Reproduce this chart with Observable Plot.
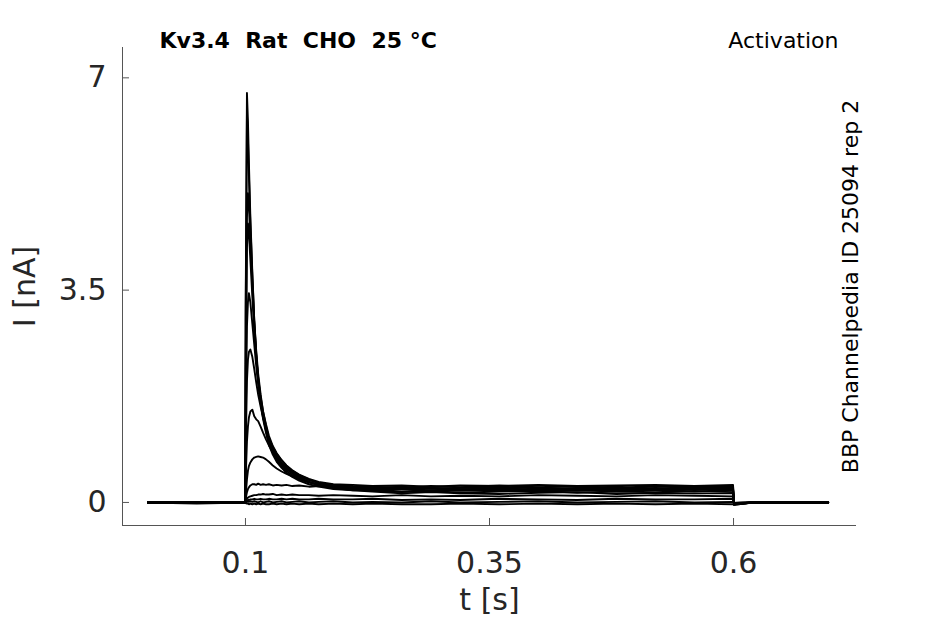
<!DOCTYPE html>
<html>
<head>
<meta charset="utf-8">
<script src="https://cdn.jsdelivr.net/npm/d3@7"></script>
<script src="https://cdn.jsdelivr.net/npm/@observablehq/plot@0.6"></script>
<style>
  body { margin: 0; background: #fff; }
  svg text { white-space: pre; }
</style>
</head>
<body>
<div id="chart"></div>
<script>
// time grid (s)
const time = [0, 0.05, 0.0998, 0.1002, 0.1015, 0.1025, 0.1035, 0.105, 0.107, 0.109,
  0.111, 0.113, 0.1155, 0.118, 0.121, 0.124, 0.128, 0.132, 0.137, 0.142,
  0.148, 0.155, 0.165, 0.175, 0.19, 0.21, 0.23, 0.26, 0.29, 0.32,
  0.36, 0.4, 0.44, 0.48, 0.52, 0.56, 0.5995, 0.6005, 0.62, 0.66, 0.697];

// current sweeps (nA)
const sweepA = [0, 0, 0, 3.2, 6.75, 6.3, 5.6, 4.7, 3.8, 3.0, 2.45, 2.05, 1.68, 1.42, 1.18, 0.98, 0.82, 0.7, 0.6, 0.52, 0.45, 0.39, 0.33, 0.29, 0.26, 0.24, 0.25, 0.22, 0.24, 0.21, 0.23, 0.25, 0.21, 0.23, 0.21, 0.24, 0.22, -0.03, 0.0, 0.01, 0.0];
const sweepB = [0, 0, 0, 3.0, 6.4, 6.0, 5.4, 4.6, 3.75, 3.0, 2.5, 2.12, 1.78, 1.5, 1.26, 1.06, 0.88, 0.76, 0.65, 0.57, 0.5, 0.43, 0.37, 0.32, 0.29, 0.27, 0.26, 0.24, 0.27, 0.25, 0.28, 0.25, 0.27, 0.24, 0.27, 0.26, 0.27, -0.04, 0.0, 0.0, 0.01];
const sweepC = [0, 0, 0, 2.2, 4.7, 5.1, 4.9, 4.3, 3.6, 2.95, 2.42, 2.0, 1.64, 1.38, 1.15, 0.95, 0.79, 0.67, 0.57, 0.49, 0.42, 0.36, 0.3, 0.26, 0.22, 0.2, 0.21, 0.18, 0.2, 0.19, 0.21, 0.18, 0.2, 0.19, 0.21, 0.18, 0.2, -0.03, 0.0, -0.01, 0.0];
const sweepD = [0, 0, 0, 1.8, 4.2, 4.6, 4.45, 4.0, 3.4, 2.85, 2.4, 2.05, 1.74, 1.5, 1.29, 1.1, 0.93, 0.81, 0.7, 0.61, 0.53, 0.46, 0.39, 0.34, 0.3, 0.29, 0.27, 0.28, 0.26, 0.28, 0.27, 0.29, 0.27, 0.28, 0.29, 0.27, 0.29, -0.04, 0.0, 0.0, 0.0];
const sweepE = [0, 0, 0, 1.2, 2.9, 3.3, 3.45, 3.3, 2.95, 2.6, 2.25, 1.95, 1.65, 1.43, 1.22, 1.03, 0.87, 0.75, 0.64, 0.55, 0.48, 0.41, 0.34, 0.29, 0.24, 0.21, 0.19, 0.17, 0.19, 0.16, 0.18, 0.19, 0.16, 0.18, 0.17, 0.19, 0.17, -0.02, 0.0, 0.0, 0.0];
const sweepF = [0, 0, 0, 0.9, 2.0, 2.35, 2.48, 2.52, 2.4, 2.2, 1.98, 1.78, 1.58, 1.4, 1.22, 1.06, 0.91, 0.8, 0.69, 0.6, 0.52, 0.45, 0.38, 0.32, 0.27, 0.25, 0.24, 0.26, 0.23, 0.24, 0.26, 0.23, 0.24, 0.26, 0.23, 0.25, 0.24, -0.03, 0.0, 0.01, 0.0];
const sweepG = [0, 0, 0, 0.4, 1.0, 1.25, 1.4, 1.5, 1.53, 1.42, 1.37, 1.34, 1.25, 1.15, 1.04, 0.94, 0.83, 0.73, 0.63, 0.55, 0.48, 0.41, 0.34, 0.29, 0.24, 0.2, 0.18, 0.15, 0.17, 0.15, 0.14, 0.16, 0.17, 0.14, 0.16, 0.15, 0.15, -0.02, 0.0, 0.0, 0.0];
const sweepH = [0, 0, 0, 0.12, 0.38, 0.52, 0.6, 0.66, 0.71, 0.74, 0.75, 0.76, 0.75, 0.74, 0.71, 0.67, 0.61, 0.56, 0.51, 0.47, 0.43, 0.38, 0.33, 0.29, 0.25, 0.23, 0.21, 0.22, 0.2, 0.22, 0.21, 0.19, 0.22, 0.2, 0.21, 0.22, 0.21, -0.02, 0.0, 0.0, 0.0];
const sweepI = [0, 0, 0, 0.06, 0.17, 0.22, 0.25, 0.28, 0.3, 0.3, 0.29, 0.31, 0.29, 0.3, 0.29, 0.3, 0.28, 0.29, 0.28, 0.29, 0.27, 0.28, 0.26, 0.27, 0.25, 0.24, 0.23, 0.22, 0.24, 0.22, 0.23, 0.21, 0.23, 0.22, 0.24, 0.22, 0.23, -0.02, 0.0, 0.0, 0.0];
const sweepJ = [0, 0, 0, 0.03, 0.06, 0.08, 0.09, 0.1, 0.11, 0.12, 0.12, 0.13, 0.13, 0.14, 0.13, 0.13, 0.14, 0.12, 0.13, 0.12, 0.13, 0.12, 0.12, 0.11, 0.12, 0.11, 0.1, 0.12, 0.1, 0.11, 0.1, 0.12, 0.11, 0.1, 0.12, 0.11, 0.1, -0.01, 0.0, 0.0, 0.0];
const sweepK = [0, -0.01, 0, 0.01, 0.03, 0.04, 0.04, 0.05, 0.05, 0.06, 0.05, 0.05, 0.06, 0.05, 0.05, 0.06, 0.05, 0.05, 0.06, 0.05, 0.06, 0.05, 0.05, 0.06, 0.05, 0.05, 0.06, 0.04, 0.05, 0.04, 0.06, 0.05, 0.04, 0.06, 0.05, 0.05, 0.06, -0.01, 0.0, 0.0, 0.0];
const sweepL = [0, -0.02, 0, 0, 0.01, 0.01, 0.01, 0.02, 0.01, 0.02, 0.01, 0.0, 0.02, 0.0, 0.01, 0.02, 0.0, 0.01, 0.02, 0.0, 0.01, 0.02, 0.0, 0.01, 0.02, 0.0, 0.01, 0.0, 0.02, 0.0, 0.01, 0.02, 0.0, 0.01, 0.02, 0.0, 0.01, -0.01, 0.0, 0.0, 0.0];
const sweepM = [0, 0, 0, -0.01, -0.02, -0.02, -0.03, -0.02, -0.03, -0.02, -0.03, -0.02, -0.03, -0.02, -0.03, -0.03, -0.02, -0.03, -0.02, -0.03, -0.02, -0.03, -0.02, -0.03, -0.02, -0.03, -0.02, -0.03, -0.03, -0.02, -0.03, -0.02, -0.03, -0.02, -0.03, -0.02, -0.03, -0.01, 0.0, 0.0, 0.0];

const sweeps = [sweepA, sweepB, sweepC, sweepD, sweepE, sweepF, sweepG, sweepH, sweepI, sweepJ, sweepK, sweepL, sweepM];

const xTicks = [0.1, 0.35, 0.6];
const yTicks = [0, 3.5, 7];
const xDomain = [-0.026, 0.726];
const yDomain = [-0.38, 7.5];

const titleText = "Kv3.4  Rat  CHO  25 °C";
const protocolText = "Activation";
const sourceText = "BBP Channelpedia ID 25094 rep 2";

const rows = sweeps.flatMap((s, k) => s.map((v, i) => ({t: time[i], I: v, sweep: k})));

const axisColor = "#555";
const textColor = "#262626";

const chart = Plot.plot({
  width: 945,
  height: 624,
  marginLeft: 122,
  marginRight: 89,
  marginTop: 47,
  marginBottom: 99,
  x: {domain: xDomain},
  y: {domain: yDomain},
  style: {fontFamily: "DejaVu Sans", background: "white", color: textColor},
  marks: [
    Plot.line(rows, {x: "t", y: "I", z: "sweep", stroke: "black", strokeWidth: 1.9}),
    Plot.ruleX([xDomain[0]], {stroke: axisColor, strokeWidth: 1}),
    Plot.ruleY([yDomain[0]], {stroke: axisColor, strokeWidth: 1}),
    Plot.axisX(xTicks, {tickSize: -7, tickFormat: () => "", stroke: axisColor, label: null}),
    Plot.axisY(yTicks, {tickSize: -7, tickFormat: () => "", stroke: axisColor, label: null}),
    Plot.axisX(xTicks, {tickSize: 0, tickPadding: 26, fontSize: 30, fill: textColor, tickFormat: d => String(d), label: null}),
    Plot.axisY(yTicks, {tickSize: 0, tickPadding: 16, fontSize: 30, fill: textColor, tickFormat: d => String(d), label: null}),
    Plot.text(["t [s]"], {frameAnchor: "bottom", dy: 75, lineAnchor: "middle", textAnchor: "middle", fontSize: 30, fill: textColor}),
    Plot.text(["I [nA]"], {frameAnchor: "left", dx: -97, rotate: -90, lineAnchor: "middle", textAnchor: "middle", fontSize: 30, fill: textColor}),
    Plot.text([titleText], {frameAnchor: "top-left", dx: 37, lineAnchor: "bottom", textAnchor: "start", fontSize: 22, fontWeight: "bold", fill: "black"}),
    Plot.text([protocolText], {frameAnchor: "top-right", dx: -18, lineAnchor: "bottom", textAnchor: "end", fontSize: 22, fill: "black"}),
    Plot.text([sourceText], {frameAnchor: "right", dx: -6, rotate: -90, lineAnchor: "middle", textAnchor: "middle", fontSize: 22, fill: "black"})
  ]
});
document.getElementById("chart").appendChild(chart);
</script>
</body>
</html>
